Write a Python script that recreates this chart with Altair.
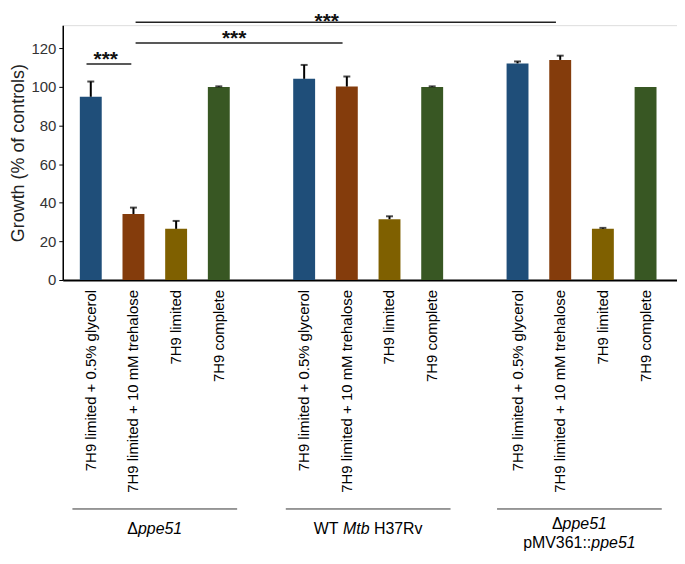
import altair as alt
import pandas as pd

# ---- data -------------------------------------------------------------
groups = ["Δppe51", "WT Mtb H37Rv", "Δppe51 pMV361::ppe51"]
categories = ["7H9 limited + 0.5% glycerol", "7H9 limited + 10 mM trehalose",
              "7H9 limited", "7H9 complete"]
values_g1 = [94.9, 34.2, 26.5, 100.0]
errors_g1 = [7.9, 3.3, 4.1, 0.3]
values_g2 = [104.2, 100.2, 31.5, 100.0]
errors_g2 = [7.2, 5.2, 1.5, 0.3]
values_g3 = [112.2, 114.0, 26.6, 100.0]
errors_g3 = [1.0, 2.2, 0.4, 0.0]
colors = ["#1F4E79", "#843C0C", "#7F6000", "#385723"]

# significance brackets: start slot, end slot, line level, label, label slot, label baseline level
br_start = [-0.1, 1.05, 1.05]
br_end = [0.95, 5.9, 10.9]
br_level = [111.9, 122.7, 133.5]
br_label = ["***", "***", "***"]
br_label_x = [0.35, 3.36, 5.53]
br_label_y = [110.9, 121.6, 130.6]

# ---- tables ------------------------------------------------------------
vals = [values_g1, values_g2, values_g3]
errs = [errors_g1, errors_g2, errors_g3]
rows = []
for gi, g in enumerate(groups):
    for ci, c in enumerate(categories):
        v = vals[gi][ci]
        e = errs[gi][ci]
        rows.append(dict(group=g, category=c, slot=gi * 5 + ci, value=v,
                         err=e, top=v + e))
df = pd.DataFrame(rows)
df_err = df[df["err"] > 0]

br = pd.DataFrame(dict(x=br_start, x2=br_end, y=br_level))
brl = pd.DataFrame(dict(x=br_label_x, y=br_label_y, t=br_label))

FONT = "Liberation Sans"
xscale = alt.Scale(domain=[-0.54, 13.62], nice=False, zero=False)
yscale = alt.Scale(domain=[0, 132], nice=False)

base = alt.Chart(df)

bars = base.mark_bar(size=22).encode(
    x=alt.X("slot:Q", scale=xscale,
            axis=alt.Axis(labels=False, ticks=False, grid=False, title=None,
                          domainColor="black", domainWidth=2)),
    y=alt.Y("value:Q", scale=yscale,
            axis=alt.Axis(values=[0, 20, 40, 60, 80, 100, 120], grid=False,
                          domainColor="black", domainWidth=1.5,
                          tickColor="black", tickSize=4, tickWidth=1,
                          labelFontSize=15, labelColor="#333", labelPadding=3,
                          labelFont=FONT,
                          title="Growth (% of controls)", titleFontSize=18,
                          titleFontWeight="normal", titleColor="#222",
                          titleFont=FONT, titlePadding=3)),
    color=alt.Color("category:N", scale=alt.Scale(domain=categories, range=colors),
                    legend=None),
)

err_rule = alt.Chart(df_err).mark_rule(color="black", strokeWidth=2).encode(
    x=alt.X("slot:Q", scale=xscale), y=alt.Y("value:Q", scale=yscale), y2="top:Q")
err_cap = alt.Chart(df_err).mark_tick(color="black", orient="horizontal",
                                      size=7, thickness=2).encode(
    x=alt.X("slot:Q", scale=xscale), y=alt.Y("top:Q", scale=yscale))

cat_labels = base.mark_text(angle=270, align="right", baseline="middle",
                            fontSize=15, font=FONT, color="black").encode(
    x=alt.X("slot:Q", scale=xscale), y=alt.value(266), text="category:N")

br_rules = alt.Chart(br).mark_rule(color="#222", strokeWidth=1.5).encode(
    x=alt.X("x:Q", scale=xscale), x2="x2:Q", y=alt.Y("y:Q", scale=yscale))
br_text = alt.Chart(brl).mark_text(fontSize=21, font=FONT, color="#111",
                                   fontWeight="bold",
                                   baseline="alphabetic", align="center").encode(
    x=alt.X("x:Q", scale=xscale), y=alt.Y("y:Q", scale=yscale), text="t:N")

# group underlines
grp = pd.DataFrame(dict(center=[1.5, 6.5, 11.45]))
grp["x"] = grp["center"] - 1.93
grp["x2"] = grp["center"] + 1.93
grp_rules = alt.Chart(grp).mark_rule(color="#333", strokeWidth=1).encode(
    x=alt.X("x:Q", scale=xscale), x2="x2:Q", y=alt.value(486))

# group labels, split into upright / italic pieces
pieces = [
    (1.5, "Δ", False, -27.6, 506), (1.5, "ppe51", True, -16.9, 506),
    (6.5, "WT", False, -54.6, 506), (6.5, "Mtb", True, -25.3, 506),
    (6.5, "H37Rv", False, 5.8, 506),
    (11.45, "Δ", False, -27.6, 501), (11.45, "ppe51", True, -16.9, 501),
    (11.45, "pMV361::", False, -56.5, 520), (11.45, "ppe51", True, 12.0, 520),
]
glayers = []
for cx, t, it, dx, yy in pieces:
    d = pd.DataFrame(dict(x=[cx], t=[t]))
    glayers.append(alt.Chart(d).mark_text(
        align="left", baseline="middle", fontSize=16, font=FONT, color="black",
        fontStyle="italic" if it else "normal", dx=dx).encode(
        x=alt.X("x:Q", scale=xscale), y=alt.value(yy), text="t:N"))

chart = alt.layer(bars, err_rule, err_cap, cat_labels, br_rules, br_text,
                  grp_rules, *glayers).properties(
    width=617, height=256,
    autosize=alt.AutoSizeParams(type="none"),
    padding={"left": 55, "top": 16, "right": 0, "bottom": 276},
).configure_view(stroke=None).configure(font=FONT)

chart.save("out.html", embed_options={"renderer": "svg", "actions": False})
